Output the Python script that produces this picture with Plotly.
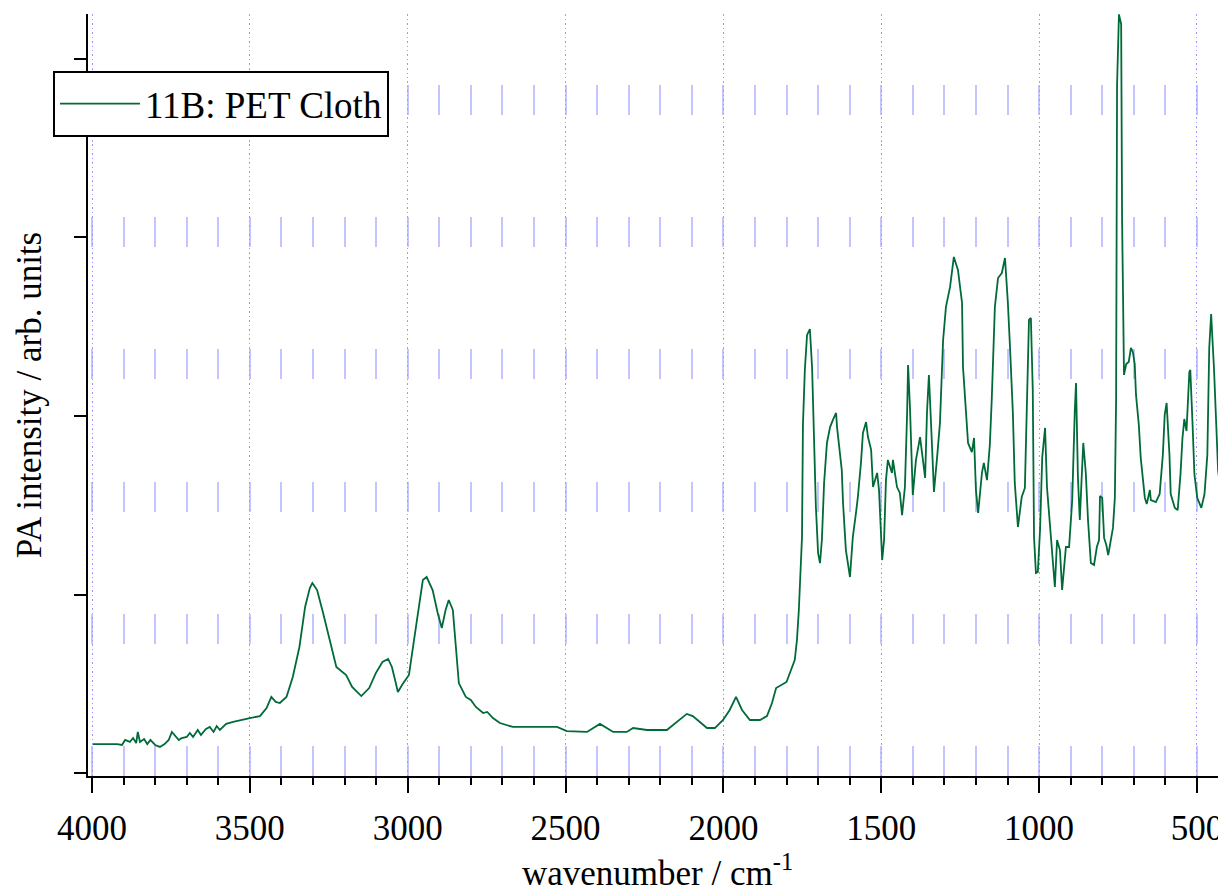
import plotly.graph_objects as go

# wavenumber (cm^-1) and photoacoustic intensity (arb. units)
wavenumber = [
    3997, 3920, 3905, 3895, 3880, 3870, 3860, 3855, 3848, 3835, 3825, 3815, 3800, 3785,
    3770, 3757, 3747, 3735, 3725, 3716, 3700, 3690, 3680, 3665, 3655, 3640, 3627, 3615,
    3605, 3595, 3575, 3553, 3530, 3500, 3468, 3447, 3432, 3418, 3405, 3384, 3364, 3343,
    3325, 3310, 3302, 3287, 3268, 3246, 3226, 3195, 3176, 3147, 3122, 3101, 3080, 3062,
    3050, 3040, 3031, 3016, 2996, 2980, 2965, 2952, 2940, 2921, 2905, 2892, 2880, 2870,
    2857, 2848, 2838, 2816, 2800, 2784, 2761, 2748, 2730, 2708, 2667, 2527, 2496, 2432,
    2391, 2349, 2306, 2286, 2242, 2179, 2116, 2097, 2052, 2027, 2001, 1980, 1960, 1941,
    1916, 1884, 1862, 1846, 1833, 1800, 1790, 1774, 1767, 1761, 1751, 1748, 1742, 1735,
    1726, 1719, 1713, 1707, 1700, 1694, 1688, 1681, 1672, 1662, 1653, 1643, 1640, 1634,
    1625, 1621, 1612, 1599, 1590, 1580, 1574, 1564, 1558, 1548, 1542, 1532, 1526, 1513,
    1507, 1497, 1491, 1485, 1479, 1466, 1463, 1450, 1441, 1434, 1425, 1418, 1415, 1409,
    1403, 1400, 1390, 1384, 1377, 1368, 1361, 1355, 1349, 1339, 1333, 1323, 1314, 1304,
    1295, 1282, 1270, 1257, 1244, 1241, 1232, 1225, 1213, 1206, 1200, 1193, 1181, 1175,
    1165, 1156, 1150, 1140, 1130, 1118, 1108, 1099, 1092, 1083, 1077, 1067, 1055, 1045,
    1039, 1032, 1026, 1020, 1016, 1010, 1004, 997, 990, 981, 975, 965, 959, 950,
    943, 934, 927, 915, 905, 895, 887, 883, 877, 871, 865, 860, 852, 845,
    836, 826, 817, 810, 807, 800, 794, 787, 781, 772, 766, 760, 756, 753,
    747, 740, 737, 731, 724, 716, 709, 703, 697, 693, 684, 678, 671, 665,
    659, 649, 646, 630, 618, 608, 602, 596, 587, 583, 570, 561, 552, 546,
    540, 533, 524, 521, 514, 508, 499, 486, 476, 467, 461, 455, 446, 440,
    433, 427, 418, 410,
]
intensity = [
    0.162, 0.162, 0.157, 0.185, 0.174, 0.196, 0.168, 0.230, 0.174, 0.190, 0.162, 0.185, 0.157, 0.146,
    0.162, 0.185, 0.230, 0.207, 0.185, 0.196, 0.202, 0.224, 0.202, 0.241, 0.213, 0.246, 0.258, 0.230,
    0.263, 0.241, 0.275, 0.286, 0.297, 0.308, 0.319, 0.364, 0.426, 0.398, 0.392, 0.426, 0.538, 0.706,
    0.930, 1.036, 1.064, 1.025, 0.896, 0.745, 0.594, 0.549, 0.482, 0.431, 0.476, 0.560, 0.622, 0.639,
    0.594, 0.521, 0.454, 0.499, 0.549, 0.745, 0.930, 1.081, 1.098, 1.025, 0.896, 0.812, 0.913, 0.969,
    0.913, 0.728, 0.504, 0.426, 0.409, 0.370, 0.336, 0.342, 0.308, 0.280, 0.258, 0.258, 0.235, 0.230,
    0.275, 0.230, 0.230, 0.252, 0.241, 0.241, 0.331, 0.319, 0.252, 0.252, 0.297, 0.353, 0.426, 0.353,
    0.297, 0.297, 0.319, 0.392, 0.476, 0.510, 0.560, 0.633, 0.745, 0.913, 1.322, 1.950, 2.258, 2.454,
    2.487, 2.269, 1.882, 1.490, 1.232, 1.176, 1.305, 1.625, 1.849, 1.938, 1.978, 2.017, 1.938, 1.838,
    1.697, 1.513, 1.249, 1.098, 1.322, 1.457, 1.546, 1.742, 1.905, 1.966, 1.882, 1.810, 1.602, 1.681,
    1.585, 1.193, 1.305, 1.641, 1.754, 1.681, 1.754, 1.602, 1.569, 1.445, 1.602, 2.017, 2.286, 2.050,
    1.602, 1.557, 1.754, 1.810, 1.882, 1.754, 1.653, 2.022, 2.230, 1.826, 1.574, 1.770, 1.961, 2.426,
    2.611, 2.723, 2.891, 2.818, 2.633, 2.275, 2.017, 1.849, 1.798, 1.877, 1.585, 1.457, 1.681, 1.737,
    1.641, 1.838, 2.090, 2.611, 2.773, 2.801, 2.885, 2.639, 2.381, 2.017, 1.625, 1.378, 1.546, 1.597,
    2.034, 2.538, 2.549, 2.146, 1.322, 1.120, 1.126, 1.361, 1.770, 1.933, 1.602, 1.378, 1.193, 1.042,
    1.305, 1.249, 1.025, 1.266, 1.266, 1.529, 2.022, 2.185, 1.658, 1.417, 1.658, 1.849, 1.681, 1.417,
    1.176, 1.165, 1.266, 1.305, 1.552, 1.541, 1.317, 1.277, 1.221, 1.305, 1.373, 1.541, 2.095, 3.854,
    4.250, 4.196, 3.092, 2.230, 2.291, 2.303, 2.381, 2.359, 2.291, 2.118, 1.950, 1.765, 1.653, 1.541,
    1.507, 1.585, 1.529, 1.518, 1.563, 1.782, 2.006, 2.073, 1.782, 1.563, 1.485, 1.473, 1.675, 1.871,
    1.983, 1.916, 2.246, 2.258, 1.961, 1.675, 1.541, 1.485, 1.563, 1.782, 2.381, 2.571, 2.269, 1.961,
    1.697, 1.608, 1.720, 1.780,
]
series_name = "11B: PET Cloth"
x_tick_values = [4000, 3500, 3000, 2500, 2000, 1500, 1000, 500]
x_tick_labels = ["4000", "3500", "3000", "2500", "2000", "1500", "1000", "500"]
x_title = "wavenumber / cm<sup>-1</sup>"
y_title = "PA intensity / arb. units"

FONT = "Liberation Serif"
GREEN = "#006b38"
GRID = "#c4c4ff"
DOTGRID = "#9c9cff"

fig = go.Figure()
fig.add_trace(go.Scatter(
    x=wavenumber, y=intensity, mode="lines", name=series_name,
    line=dict(color=GREEN, width=1.8),
))

fig.add_annotation(
    text=x_title, xref="paper", yref="paper", x=0.5, y=-0.124,
    xanchor="center", yanchor="middle", showarrow=False,
    font=dict(family=FONT, size=35, color="black"),
)

fig.update_layout(
    width=1218, height=884,
    margin=dict(l=80, r=0, t=6, b=116, autoexpand=False),
    plot_bgcolor="white", paper_bgcolor="white",
    font=dict(family=FONT, color="black", size=35),
    showlegend=True,
    legend=dict(
        x=-0.0308, y=0.925, xanchor="left", yanchor="top",
        bgcolor="white", bordercolor="black", borderwidth=2,
        font=dict(family=FONT, size=37, color="black"),
        itemwidth=80,
    ),
    xaxis=dict(
        automargin=False,
        range=[4012.7, 407.9],
        tickvals=x_tick_values, ticktext=x_tick_labels,
        ticks="outside", ticklen=15, tickwidth=1.5, tickcolor="black",
        ticklabelstandoff=5,
        showline=True, linecolor="black", linewidth=1.5,
        showgrid=True, gridcolor=DOTGRID, gridwidth=1.3, griddash="1.5px,3px",
        zeroline=False,
        tickfont=dict(family=FONT, size=35),
        minor=dict(
            dtick=100, tick0=0, ticks="outside", ticklen=7, tickwidth=1.5, tickcolor="black",
            showgrid=True, gridcolor=GRID, gridwidth=1.5, griddash="0px,71px,30px,31.2px",
        ),
    ),
    yaxis=dict(
        automargin=False,
        range=[-0.0168, 4.252],
        tick0=0, dtick=1,
        ticks="outside", ticklen=12, tickwidth=1.5, tickcolor="black",
        showticklabels=False,
        showline=True, linecolor="black", linewidth=1.5,
        showgrid=False, zeroline=False,
        title=dict(text=y_title, font=dict(family=FONT, size=35), standoff=22),
    ),
)

fig.write_html("out.html")
